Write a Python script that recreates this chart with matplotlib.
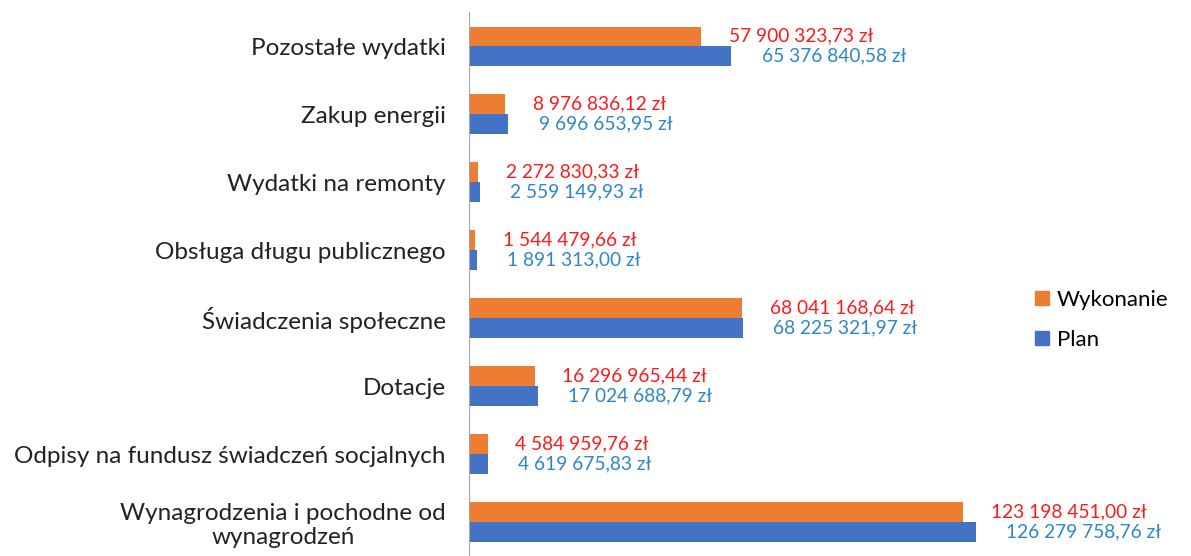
import matplotlib
matplotlib.use("Agg")
import matplotlib.pyplot as plt
from matplotlib.lines import Line2D

# Data (top to bottom as shown in the chart)
categories = [
    "Pozostałe wydatki",
    "Zakup energii",
    "Wydatki na remonty",
    "Obsługa długu publicznego",
    "Świadczenia społeczne",
    "Dotacje",
    "Odpisy na fundusz świadczeń socjalnych",
    "Wynagrodzenia i pochodne od\nwynagrodzeń",
]
wykonanie = [57900323.73, 8976836.12, 2272830.33, 1544479.66,
             68041168.64, 16296965.44, 4584959.76, 123198451.00]
plan = [65376840.58, 9696653.95, 2559149.93, 1891313.00,
        68225321.97, 17024688.79, 4619675.83, 126279758.76]

ORANGE = "#ED7D31"
BLUE = "#4472C4"
RED_TXT = "#FF1A1A"
BLUE_TXT = "#2E86C8"


def fmt_pln(v):
    s = f"{v:,.2f}".replace(",", " ").replace(".", ",")
    return s + " zł"


plt.rcParams["font.family"] = ["Lato", "DejaVu Sans"]

fig = plt.figure(figsize=(11.91, 5.56), dpi=100)
ax = fig.add_axes([0.394, 0.0, 0.446, 0.978])

n = len(categories)
ypos = [n - 1 - i for i in range(n)]
h = 0.29

ax.barh([y + h / 2 for y in ypos], wykonanie, height=h, color=ORANGE, label="Wykonanie")
ax.barh([y - h / 2 for y in ypos], plan, height=h, color=BLUE, label="Plan")

for y, w, p in zip(ypos, wykonanie, plan):
    ax.annotate(fmt_pln(w), (w, y + h / 2), xytext=(20, 0), textcoords="offset points",
                va="center", ha="left", color=RED_TXT, fontsize=13.8, annotation_clip=False)
    ax.annotate(fmt_pln(p), (p, y - h / 2), xytext=(22, 0), textcoords="offset points",
                va="center", ha="left", color=BLUE_TXT, fontsize=13.8, annotation_clip=False)

ax.set_xlim(0, 132.5e6)
ax.set_ylim(-0.5, n - 0.5)
ax.set_yticks(ypos)
ax.set_yticklabels(categories, fontsize=17.5, multialignment="center", color="#222222")
ax.tick_params(axis="y", length=0, pad=17)
ax.set_xticks([])
for side in ["top", "right", "bottom"]:
    ax.spines[side].set_visible(False)
ax.spines["left"].set_color("#A6A6A6")

handles = [
    Line2D([], [], marker="s", linestyle="none", markersize=10, color=ORANGE),
    Line2D([], [], marker="s", linestyle="none", markersize=10, color=BLUE),
]
fig.legend(handles, ["Wykonanie", "Plan"], loc="center left",
           bbox_to_anchor=(0.851, 0.425), frameon=False, fontsize=16,
           handletextpad=0.25, labelspacing=0.9, handlelength=0.8)

fig.savefig("out.png", dpi=100)
